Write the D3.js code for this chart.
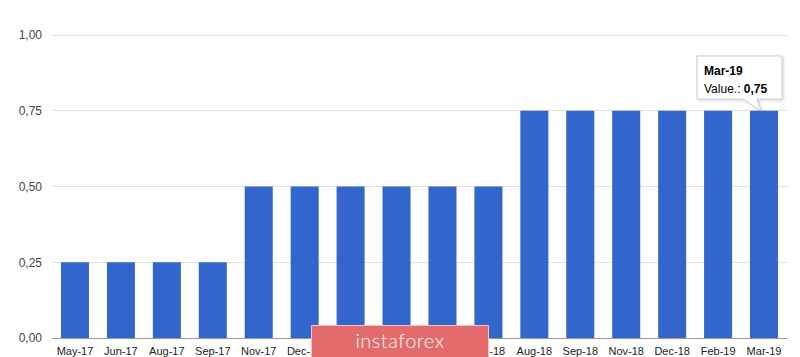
<!DOCTYPE html>
<html><head><meta charset="utf-8">
<script src="https://cdn.jsdelivr.net/npm/d3@7"></script>
<style>body{margin:0;background:#fff}svg{display:block;font-family:Arial,"Liberation Sans",sans-serif}</style>
</head><body>
<svg id="c" width="800" height="357"></svg>
<script>
const categories = ["May-17","Jun-17","Aug-17","Sep-17","Nov-17","Dec-17","Feb-18","Mar-18","May-18","Jun-18","Aug-18","Sep-18","Nov-18","Dec-18","Feb-19","Mar-19"];
const values = [0.25,0.25,0.25,0.25,0.5,0.5,0.5,0.5,0.5,0.5,0.75,0.75,0.75,0.75,0.75,0.75];
const yTicks = [0,0.25,0.5,0.75,1];
const tooltipIndex = 15;

(function(){
const svg = d3.select("#c");
const mLeft = 52, mRight = 787, mTop = 35, mBottom = 338;
const x = d3.scaleBand().domain(categories).range([mLeft, mRight]).paddingInner(0.39).paddingOuter(0.195);
const y = d3.scaleLinear().domain([0,1]).range([mBottom, mTop]);
const fmt = v => d3.format(".2f")(v).replace(".", ",");

// grid
svg.append("g").selectAll("line").data(yTicks.filter(t => t > 0)).join("line")
  .attr("x1", mLeft).attr("x2", mRight).attr("y1", d => y(d)).attr("y2", d => y(d))
  .attr("stroke", "#e0e0e0").attr("stroke-width", 1).attr("shape-rendering","crispEdges");

// y axis labels
const yAxis = svg.append("g").attr("transform", `translate(${mLeft},0)`)
  .call(d3.axisLeft(y).tickValues(yTicks).tickFormat(fmt).tickSize(0).tickPadding(10));
yAxis.select(".domain").remove();
yAxis.selectAll("text").attr("fill", "#444").attr("font-size", 12).attr("font-family","Arial, Liberation Sans, sans-serif");

// bars
svg.append("g").selectAll("rect").data(values).join("rect")
  .attr("x", (d,i) => x(categories[i])).attr("width", x.bandwidth())
  .attr("y", d => y(d)).attr("height", d => mBottom - y(d))
  .attr("fill", "#3366cc");

// baseline
svg.append("line").attr("x1", mLeft).attr("x2", mRight).attr("y1", mBottom + 0.5).attr("y2", mBottom + 0.5)
  .attr("stroke", "#999").attr("stroke-width", 1);

// x axis
const xAxis = svg.append("g").attr("transform", `translate(0,${mBottom})`)
  .call(d3.axisBottom(x).tickSize(0).tickPadding(9));
xAxis.select(".domain").remove();
xAxis.selectAll("text").attr("fill", "#222").attr("font-size", 11).attr("font-family","Arial, Liberation Sans, sans-serif");

// tooltip
const bx = x(categories[tooltipIndex]) + x.bandwidth()/2 - 3;
const by = y(values[tooltipIndex]);
const tx0 = 697, ty0 = 56, tx1 = 782, ty1 = 99;
const defs = svg.append("defs");
const f = defs.append("filter").attr("id","sh").attr("x","-20%").attr("y","-20%").attr("width","150%").attr("height","150%");
f.append("feDropShadow").attr("dx",1).attr("dy",1).attr("stdDeviation",1.5).attr("flood-color","#000").attr("flood-opacity",0.18);
const tp = d3.path();
tp.moveTo(tx0, ty0); tp.lineTo(tx1, ty0); tp.lineTo(tx1, ty1); tp.lineTo(bx - 4, ty1);
tp.lineTo(bx, by); tp.lineTo(bx - 18, ty1); tp.lineTo(tx0, ty1); tp.closePath();
svg.append("path").attr("d", tp.toString()).attr("fill", "#fff").attr("stroke", "#cccccc").attr("stroke-width",1).attr("filter","url(#sh)");
svg.append("text").attr("x", 704).attr("y", 75).attr("font-size", 12).attr("font-weight","bold").attr("fill","#000").text(categories[tooltipIndex]);
const vt = svg.append("text").attr("x", 704).attr("y", 93).attr("font-size", 12).attr("fill","#000");
vt.append("tspan").text("Value.: ");
vt.append("tspan").attr("font-weight","bold").text(fmt(values[tooltipIndex]));

// watermark
svg.append("rect").attr("x", 311.5).attr("y", 325.5).attr("width", 177).attr("height", 33)
  .attr("fill", "#e36b6b").attr("stroke", "#f3c2c2").attr("stroke-width", 1);
svg.append("text").attr("x", 400).attr("y", 348).attr("text-anchor","middle")
  .attr("font-size", 20).attr("font-weight", 300).attr("letter-spacing", 0.5).attr("fill", "#fff")
  .attr("font-family","Lato, 'Open Sans', sans-serif").text("instaforex");
})();
</script>
</body></html>
